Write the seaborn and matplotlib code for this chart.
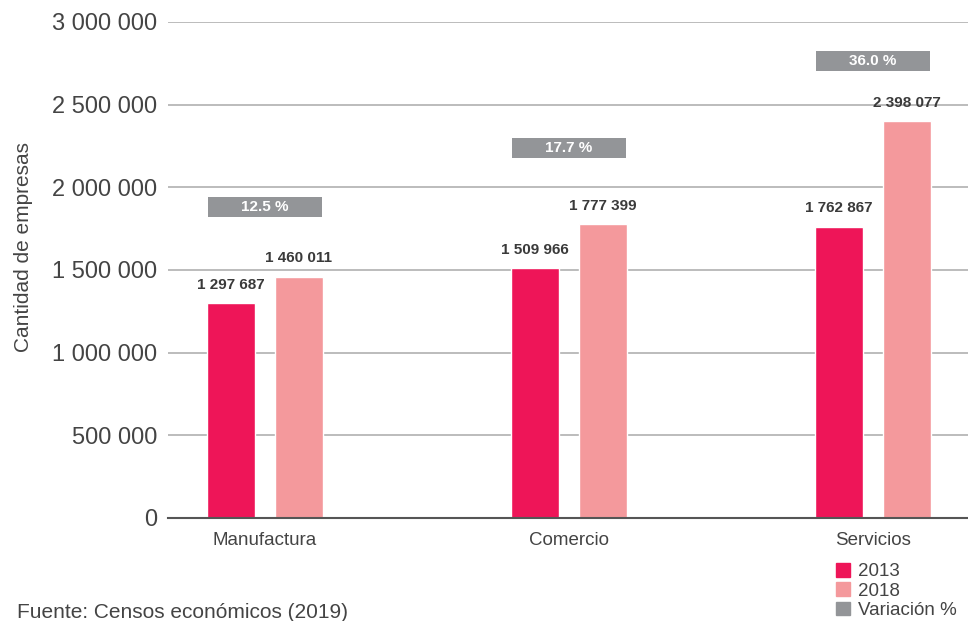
import seaborn as sns
import matplotlib.pyplot as plt
import pandas as pd
import numpy as np
from matplotlib.patches import Patch, Rectangle

# Datos
sectores = ["Manufactura", "Comercio", "Servicios"]
empresas_2013 = [1297687, 1509966, 1762867]
empresas_2018 = [1460011, 1777399, 2398077]
variacion = ["12.5 %", "17.7 %", "36.0 %"]
# altura (en unidades del eje) donde va cada recuadro de variacion
caja_y = [1881000, 2235000, 2764000]

c2013 = "#EE1558"
c2018 = "#F4999C"
cgris = "#939598"
ctexto = "#3a3a3a"

df = pd.DataFrame({
    "sector": sectores * 2,
    "empresas": empresas_2013 + empresas_2018,
    "anio": ["2013"] * 3 + ["2018"] * 3,
})

sns.set_style("white")
plt.rcParams["font.family"] = ["Liberation Sans", "DejaVu Sans"]

fig = plt.figure(figsize=(9.68, 6.21), dpi=100)
ax = fig.add_axes([0.1736, 0.1659, 0.8264, 0.7987])

sns.barplot(data=df, x="sector", y="empresas", hue="anio",
            palette=[c2013, c2018], width=0.447, gap=0.295,
            saturation=1, legend=False, ax=ax)

fmt = lambda v: f"{v:,}".replace(",", " ")

for cont in ax.containers:
    vals = [b.get_height() for b in cont]
    ax.bar_label(cont, labels=[fmt(int(v)) for v in vals], padding=8,
                 fontsize=11, fontweight="bold", color=ctexto)

# recuadros grises con la variacion
for i, (txt, yc) in enumerate(zip(variacion, caja_y)):
    ax.add_patch(Rectangle((i - 0.186, yc - 60500), 0.372, 121000,
                           facecolor=cgris, edgecolor="none", zorder=3))
    ax.text(i, yc, txt, ha="center", va="center", color="white",
            fontsize=11, fontweight="bold", zorder=4)

ax.set_xlim(-0.319, 2.3125)
ax.set_ylim(0, 3000000)
ax.set_yticks(np.arange(0, 3000001, 500000))
ax.set_yticklabels([fmt(int(v)) for v in np.arange(0, 3000001, 500000)])
ax.yaxis.grid(True, color="#b0b0b0", linewidth=1.2)
ax.set_axisbelow(True)
for s in ["top", "right", "left"]:
    ax.spines[s].set_visible(False)
ax.spines["bottom"].set_color("#555555")
ax.spines["bottom"].set_linewidth(1.5)
ax.tick_params(axis="y", length=0, pad=8, labelsize=17, labelcolor="#444444")
ax.tick_params(axis="x", length=0, pad=10, labelsize=13.5, labelcolor="#444444")
ax.set_xlabel("")
ax.set_ylabel("Cantidad de empresas", fontsize=15, color="#444444")
ax.yaxis.set_label_coords(-0.169, 0.546)

handles = [Patch(color=c2013, label="2013"),
           Patch(color=c2018, label="2018"),
           Patch(color=cgris, label="Variación %")]
fig.legend(handles=handles, loc="upper left", bbox_to_anchor=(836 / 968, 1 - 563 / 621),
           frameon=False, fontsize=13.5, handlelength=0.75, handleheight=0.75,
           handletextpad=0.4, labelspacing=0.1, borderpad=0, borderaxespad=0,
           labelcolor="#444444")

fig.text(17 / 968, 1 - 613 / 621, "Fuente: Censos económicos (2019)",
         fontsize=15, color="#444444", va="center", ha="left")

fig.savefig("out.png", dpi=100)
